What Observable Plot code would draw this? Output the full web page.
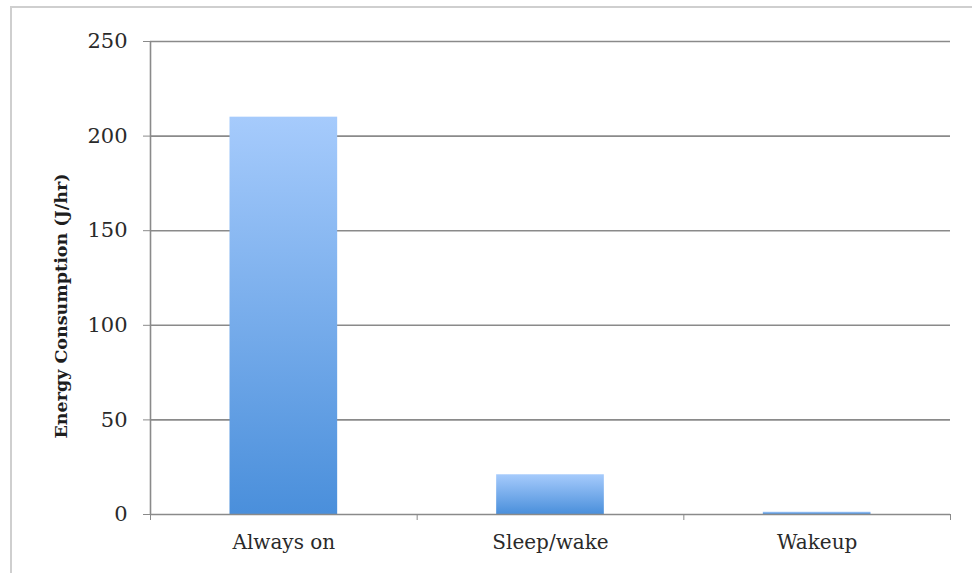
<!DOCTYPE html>
<html>
<head>
<meta charset="utf-8">
<script src="https://cdn.jsdelivr.net/npm/d3@7"></script>
<script src="https://cdn.jsdelivr.net/npm/@observablehq/plot@0.6"></script>
<style>
  html, body { margin: 0; padding: 0; background: #fff; }
  #wrap { position: relative; width: 972px; height: 573px; overflow: hidden; }
  #border { position: absolute; left: 10px; top: 6px; width: 980px; height: 600px;
            border-top: 2px solid #cfcfcf; border-left: 2px solid #cfcfcf; box-sizing: border-box; }
  #chart { position: absolute; left: 0; top: 0; }
</style>
</head>
<body>
<div id="wrap"><div id="border"></div><div id="chart"></div></div>
<script>
const categories = ["Always on", "Sleep/wake", "Wakeup"];
const values = [210, 21, 1.2];
const yTicks = [0, 50, 100, 150, 200, 250];
const yLabel = "Energy Consumption (J/hr)";

const data = categories.map((c, i) => ({cat: c, i, v: values[i]}));
const font = "'DejaVu Serif', 'Liberation Serif', serif";

const plot = Plot.plot({
  width: 972,
  height: 573,
  marginLeft: 150,
  marginRight: 22,
  marginTop: 41,
  marginBottom: 59,
  style: {fontFamily: font, fontSize: "20px", color: "#2a2a2a", background: "transparent"},
  x: {type: "linear", domain: [0, categories.length], axis: null},
  y: {domain: [0, 250], axis: null},
  marks: [
    Plot.gridY(yTicks.filter(d => d > 0), {stroke: "#8a8a8a", strokeOpacity: 1, strokeWidth: 1.6}),
    Plot.rectY(data, {x1: "i", x2: d => d.i + 1, y1: 0, y2: "v", insetLeft: 79.5, insetRight: 79.5, fill: "url(#barGrad)"}),
    Plot.ruleY([0], {stroke: "#8a8a8a", strokeWidth: 1.6}),
    Plot.ruleX([0], {stroke: "#8a8a8a", strokeWidth: 1.6}),
    Plot.axisY({ticks: yTicks, tickSize: 7, tickPadding: 16, label: null, stroke: "#8a8a8a", fontSize: 21, fill: "#2a2a2a"}),
    Plot.axisX({ticks: d3.range(categories.length + 1), tickSize: 6, tickFormat: () => "", label: null, stroke: "#8a8a8a"}),
    Plot.axisX({ticks: categories.map((c, i) => i + 0.5), tickSize: 0, tickPadding: 20, tickFormat: (d) => categories[Math.floor(d)], label: null, fontSize: 20, fill: "#2a2a2a"}),
    Plot.text([yLabel], {frameAnchor: "left", textAnchor: "middle", rotate: -90, dx: -89, dy: 28, fontWeight: "bold", fontSize: 17.5, fill: "#1e1e1e", text: d => d})
  ]
});

const ns = "http://www.w3.org/2000/svg";
const defs = document.createElementNS(ns, "defs");
const grad = document.createElementNS(ns, "linearGradient");
grad.setAttribute("id", "barGrad");
grad.setAttribute("x1", "0"); grad.setAttribute("y1", "0");
grad.setAttribute("x2", "0"); grad.setAttribute("y2", "1");
[["0%", "#a6cbfc"], ["100%", "#4a8fdb"]].forEach(([o, c]) => {
  const s = document.createElementNS(ns, "stop");
  s.setAttribute("offset", o); s.setAttribute("stop-color", c);
  grad.appendChild(s);
});
defs.appendChild(grad);
plot.insertBefore(defs, plot.firstChild);
document.getElementById("chart").appendChild(plot);
</script>
</body>
</html>
